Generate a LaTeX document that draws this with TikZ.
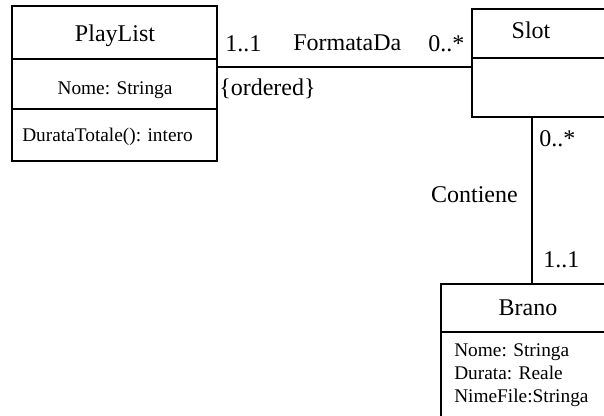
\documentclass[tikz,border=0pt]{standalone}
\usepackage{fontspec}
\setmainfont{Liberation Serif}
\usetikzlibrary{fit}

\begin{document}
\begin{tikzpicture}[
    x=0.75pt, y=-0.75pt,
    classbox/.style={rectangle, draw=black, line width=1.5pt, inner sep=0pt},
    divider/.style={line width=1.5pt},
    edge/.style={line width=1.5pt, -},
    classtitle/.style={inner sep=0pt, anchor=base, font=\fontsize{18}{21}\selectfont},
    assoc/.style={inner sep=0pt, anchor=base west, font=\fontsize{18}{21}\selectfont},
    attr/.style={inner sep=0pt, anchor=base west, font=\fontsize{14.5}{17}\selectfont}
]
    \fill[white] (0,0) rectangle (604,416);
    \clip (0,0) rectangle (604,416);

    % classes
    \node[classbox, fit={(12,6) (217,161)}] (playlist) {};
    \node[classbox, fit={(472,9) (650,117)}] (slot) {};
    \node[classbox, fit={(441,284) (650,450)}] (brano) {};

    \draw[divider] (playlist.west |- 0,59) -- (playlist.east |- 0,59);
    \draw[divider] (playlist.west |- 0,109) -- (playlist.east |- 0,109);
    \draw[divider] (slot.west |- 0,58) -- (slot.east |- 0,58);
    \draw[divider] (brano.west |- 0,332) -- (brano.east |- 0,332);

    \node[classtitle] (playlistname) at (115,42) {PlayList};
    \node[attr, anchor=base] (playlistnome) at (115,95) {Nome: Stringa};
    \node[attr] (playlistdurata) at (22,142) {DurataTotale(): intero};
    \node[classtitle] (slotname) at (531,39) {Slot};
    \node[classtitle] (branoname) at (528,316) {Brano};
    \node[attr] (branonome) at (454,357) {Nome: Stringa};
    \node[attr] (branodurata) at (454,380) {Durata: Reale};
    \node[attr] (branofile) at (454,403) {NimeFile:Stringa};

    % associations
    \coordinate (fd) at (0,67);
    \coordinate (ct) at (532,0);
    \draw[edge] (playlist.east |- fd) -- (slot.west |- fd);
    \draw[edge] (slot.south -| ct) -- (brano.north -| ct);

    \node[assoc] (fdleft) at (225,52) {1..1};
    \node[assoc] (fdname) at (293,51) {FormataDa};
    \node[assoc] (fdright) at (428,52) {0..*};
    \node[assoc] (fdorder) at (219,96) {\{ordered\}};
    \node[assoc] (cttop) at (539,147) {0..*};
    \node[assoc, anchor=base east] (ctname) at (518,203) {Contiene};
    \node[assoc] (ctbottom) at (543,268) {1..1};
\end{tikzpicture}
\end{document}
